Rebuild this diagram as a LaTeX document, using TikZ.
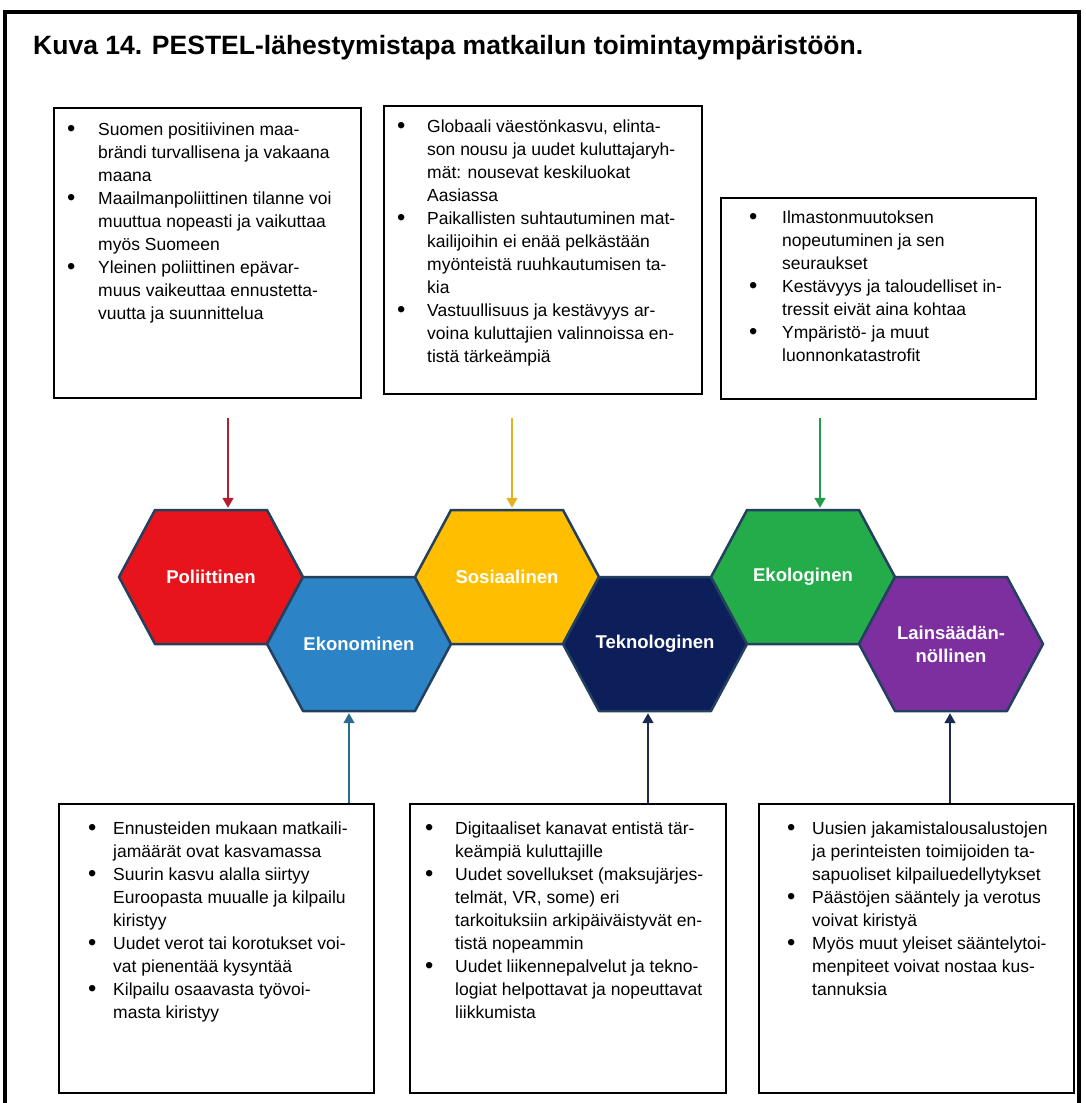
\documentclass[tikz,border=0pt]{standalone}
\usepackage{fontspec}
\setmainfont{Liberation Sans}
\usetikzlibrary{arrows.meta}
\definecolor{polred}{HTML}{E8141B}
\definecolor{ekoblue}{HTML}{2C83C5}
\definecolor{sosyellow}{HTML}{FFBF00}
\definecolor{teknavy}{HTML}{0C1F5B}
\definecolor{ekogreen}{HTML}{24AB4A}
\definecolor{lakipurple}{HTML}{7D2FA0}
\definecolor{hexline}{HTML}{23415F}
\definecolor{redarr}{HTML}{B51E2E}
\definecolor{yelarr}{HTML}{E3B21E}
\definecolor{grnarr}{HTML}{1F9E4A}
\definecolor{bluarr}{HTML}{2B6A92}
\definecolor{navarr}{HTML}{1B2850}
\newlength{\bulind}
\newcommand{\bul}{\makebox[\bulind][l]{\raisebox{-0.6pt}{\scalebox{1.35}{\textbullet}}}}
\newcommand{\ind}{\hspace*{\bulind}}
\begin{document}
\begin{tikzpicture}[x=1pt,y=-1pt,
  box/.style={draw=black,line width=1.5pt,rectangle,inner sep=0pt,anchor=north west},
  btext/.style={anchor=north west,inner sep=0pt,align=left,font=\fontsize{17.5}{23}\selectfont},
  bulind/.code={\setlength{\bulind}{#1}},
  hexfill/.style={draw=hexline,line width=2.5pt,line join=round},
  hexlab/.style={text=white,font=\fontsize{18.5}{23}\selectfont\bfseries,align=center,
    minimum width=184pt,minimum height=134pt,inner sep=0pt},
  arr/.style={line width=1.5pt,-{Triangle[width=11pt,length=10pt]},shorten >=2pt}]
\useasboundingbox (0,0) rectangle (1085,1103);
\draw[line width=4pt] (5,1103) -- (5,12) -- (1079,12) -- (1079,1103);
\node[anchor=base west,inner sep=0pt,font=\fontsize{26.5}{30}\selectfont\bfseries] (title) at (33,54)
  {Kuva 14. PESTEL-lähestymistapa matkailun toimintaympäristöön.};

% kuusikulmiot
\foreach \n/\x/\y/\c/\t in {hexP/211/577/polred/Poliittinen,
    hexEk/359/644/ekoblue/Ekonominen,
    hexS/507/577/sosyellow/Sosiaalinen,
    hexT/655/644/teknavy/Teknologinen,
    hexE/803/577/ekogreen/Ekologinen,
    hexL/951/644/lakipurple/{Lainsäädän-\\nöllinen}}{
  \filldraw[hexfill,fill=\c] (\x-92,\y) -- ++(36,-67) -- ++(112,0) -- ++(36,67)
    -- ++(-36,67) -- ++(-112,0) -- cycle;
  \node[hexlab] (\n) at (\x,\y) {\t};
}

% ylarivi
\node[box,minimum width=307pt,minimum height=290pt] (boxP) at (53,107) {};
\node[btext,bulind=31pt] (txtP) at (67,123) {\bul Suomen positiivinen maa-\\
  \ind brändi turvallisena ja vakaana\\
  \ind maana\\
  \bul Maailmanpoliittinen tilanne voi\\
  \ind muuttua nopeasti ja vaikuttaa\\
  \ind myös Suomeen\\
  \bul Yleinen poliittinen epävar-\\
  \ind muus vaikeuttaa ennustetta-\\
  \ind vuutta ja suunnittelua};

\node[box,minimum width=318pt,minimum height=288pt] (boxS) at (383,105) {};
\node[btext,bulind=30pt] (txtS) at (397,120) {\bul Globaali väestönkasvu, elinta-\\
  \ind son nousu ja uudet kuluttajaryh-\\
  \ind mät: nousevat keskiluokat\\
  \ind Aasiassa\\
  \bul Paikallisten suhtautuminen mat-\\
  \ind kailijoihin ei enää pelkästään\\
  \ind myönteistä ruuhkautumisen ta-\\
  \ind kia\\
  \bul Vastuullisuus ja kestävyys ar-\\
  \ind voina kuluttajien valinnoissa en-\\
  \ind tistä tärkeämpiä};

\node[box,minimum width=315pt,minimum height=201pt] (boxE) at (720,197) {};
\node[btext,bulind=33pt] (txtE) at (749,211) {\bul Ilmastonmuutoksen\\
  \ind nopeutuminen ja sen\\
  \ind seuraukset\\
  \bul Kestävyys ja taloudelliset in-\\
  \ind tressit eivät aina kohtaa\\
  \bul Ympäristö- ja muut\\
  \ind luonnonkatastrofit};

% alarivi
\node[box,minimum width=315pt,minimum height=289pt] (boxEk) at (58,803) {};
\node[btext,bulind=25pt] (txtEk) at (88,822) {\bul Ennusteiden mukaan matkaili-\\
  \ind jamäärät ovat kasvamassa\\
  \bul Suurin kasvu alalla siirtyy\\
  \ind Euroopasta muualle ja kilpailu\\
  \ind kiristyy\\
  \bul Uudet verot tai korotukset voi-\\
  \ind vat pienentää kysyntää\\
  \bul Kilpailu osaavasta työvoi-\\
  \ind masta kiristyy};

\node[box,minimum width=316pt,minimum height=289pt] (boxT) at (409,803) {};
\node[btext,bulind=30pt] (txtT) at (425,822) {\bul Digitaaliset kanavat entistä tär-\\
  \ind keämpiä kuluttajille\\
  \bul Uudet sovellukset (maksujärjes-\\
  \ind telmät, VR, some) eri\\
  \ind tarkoituksiin arkipäiväistyvät en-\\
  \ind tistä nopeammin\\
  \bul Uudet liikennepalvelut ja tekno-\\
  \ind logiat helpottavat ja nopeuttavat\\
  \ind liikkumista};

\node[box,minimum width=315pt,minimum height=289pt] (boxL) at (758,803) {};
\node[btext,bulind=25pt] (txtL) at (787,822) {\bul Uusien jakamistalousalustojen\\
  \ind ja perinteisten toimijoiden ta-\\
  \ind sapuoliset kilpailuedellytykset\\
  \bul Päästöjen sääntely ja verotus\\
  \ind voivat kiristyä\\
  \bul Myös muut yleiset sääntelytoi-\\
  \ind menpiteet voivat nostaa kus-\\
  \ind tannuksia};

% nuolet
\coordinate (aP) at (228,418);
\coordinate (aS) at (512,418);
\coordinate (aE) at (820,418);
\draw[arr,redarr] (aP) -- (aP |- hexP.north);
\draw[arr,yelarr] (aS) -- (aS |- hexS.north);
\draw[arr,grnarr] (aE) -- (aE |- hexE.north);
\coordinate (aEk) at (349,0);
\coordinate (aT) at (648,0);
\coordinate (aL) at (950,0);
\draw[arr,bluarr] (boxEk.north -| aEk) -- (aEk |- hexEk.south);
\draw[arr,navarr] (boxT.north -| aT) -- (aT |- hexT.south);
\draw[arr,navarr] (boxL.north -| aL) -- (aL |- hexL.south);
\end{tikzpicture}
\end{document}
